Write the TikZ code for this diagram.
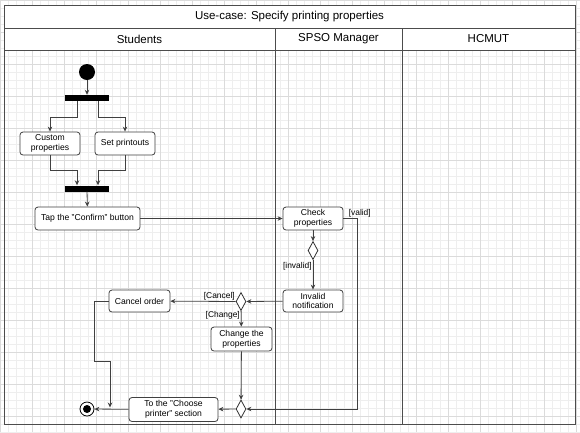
\documentclass[tikz,border=0pt]{standalone}
\usepackage{fontspec}
\setmainfont{Liberation Sans}
\usetikzlibrary{shapes.geometric,arrows.meta}
\begin{document}
\begin{tikzpicture}[x=1pt,y=-1pt,
  line/.style={draw=black!75,line width=0.8pt},
  arr/.style={line, -{Stealth[length=5pt,width=4.5pt]}},
  act/.style={draw=black!75,line width=0.8pt,rounded corners=3pt,fill=white,align=center,
    font=\fontsize{8.6}{9.6}\selectfont,inner sep=0pt},
  bar/.style={fill=black,minimum width=44pt,minimum height=6pt,inner sep=0pt},
  dec/.style={diamond,draw=black!80,line width=0.8pt,fill=white,minimum width=10pt,minimum height=18pt,inner sep=0pt},
  lbl/.style={font=\fontsize{8.4}{9}\selectfont,inner sep=1pt},
  hdr/.style={font=\fontsize{11.5}{12}\selectfont},
  gminor/.style={gray!13,line width=0.5pt},
  gmajor/.style={gray!28,line width=0.6pt}]
\useasboundingbox (0,0) rectangle (580,432);
\fill[white] (0,0) rectangle (580,432);
% grid
\foreach \i in {0,8,...,576} {\draw[gminor] (\i,0) -- (\i,432);}
\foreach \j in {0,8,...,432} {\draw[gminor] (0,\j) -- (580,\j);}
\foreach \i in {0,32,...,576} {\draw[gmajor] (\i,0) -- (\i,432);}
\foreach \j in {0,32,...,432} {\draw[gmajor] (0,\j) -- (580,\j);}
% swimlanes
\draw[black!70,line width=1pt,fill=white] (4,5) rectangle (575,28);
\draw[black!70,line width=1pt,fill=white] (4,28) rectangle (575,50);
\draw[black!70,line width=1pt] (4,28) rectangle (575,424);
\draw[black!70,line width=1pt] (275,28) -- (275,424);
\draw[black!70,line width=1pt] (402,28) -- (402,424);
\node[hdr] (title) at (289.5,17) {Use-case: Specify printing properties};
\node[hdr] (lane1) at (139.5,39) {Students};
\node[hdr] (lane2) at (338.5,39) {SPSO Manager};
\node[hdr] (lane3) at (488.5,39) {HCMUT};
% nodes
\node[circle,fill=black,minimum size=16pt,inner sep=0pt] (start) at (87,72) {};
\node[bar] (bar1) at (87,98) {};
\node[act,minimum width=60pt,minimum height=23pt] (custom) at (50,143.5) {Custom\\properties};
\node[act,minimum width=60pt,minimum height=23pt] (setp) at (125,143.5) {Set printouts};
\node[bar] (bar2) at (87,188.5) {};
\node[act,minimum width=105pt,minimum height=23pt] (tap) at (87.5,218.5) {Tap the "Confirm" button};
\node[act,minimum width=60pt,minimum height=23pt] (check) at (313,218.5) {Check\\properties};
\node[dec] (d1) at (313,250.5) {};
\node[act,minimum width=60pt,minimum height=22pt] (invalid) at (313,301) {Invalid\\notification};
\node[dec] (d3) at (241,301.5) {};
\node[act,minimum width=61pt,minimum height=22pt] (cancel) at (139.5,301) {Cancel order};
\node[act,minimum width=61pt,minimum height=24pt] (change) at (241.5,339) {Change the\\properties};
\node[dec] (d2) at (241,409) {};
\node[act,minimum width=89pt,minimum height=24pt] (to) at (173.5,409.5) {To the "Choose\\printer" section};
\node[circle,draw=black,line width=0.8pt,minimum size=14pt,inner sep=0pt] (end) at (87,409) {};
\node[circle,fill=black,minimum size=8pt,inner sep=0pt] (endin) at (87,409) {};
\coordinate (cl1) at (94,361);
\coordinate (cl2) at (110,361);
\coordinate (cl3) at (110,407.5);
% connectors
\draw[arr] (start) -- (bar1);
\draw[arr] ([xshift=-10pt]bar1.south) -- ++(0,16) -| (custom.north);
\draw[arr] ([xshift=11pt]bar1.south) -- ++(0,16) -| (setp.north);
\draw[arr] (custom.south) -- ++(0,15) -| ([xshift=-10pt]bar2.north);
\draw[arr] (setp.south) -- ++(0,15) -| ([xshift=11pt]bar2.north);
\draw[arr] (bar2) -- (tap);
\draw[arr] (tap) -- (check);
\draw[arr] (check) -- (d1);
\draw[arr] (d1) -- node[lbl,left,pos=0.2] {[invalid]} (invalid);
\draw[arr] (check.east) -- ++(14,0) node[lbl,pos=0.5,above right,xshift=-3pt] {[valid]} |- (d2.east);
\draw[arr] (invalid) -- (d3);
\draw[arr] (d3) -- node[lbl,above,pos=0.25] {[Cancel]} (cancel);
\draw[arr] (d3) -- node[lbl,left,pos=0.3] {[Change]} (change);
\draw[arr] (change) -- (d2);
\draw[arr] (d2) -- (to);
\draw[arr] (to) -- (end);
\draw[arr] (cancel.west) -| (cl1) -- (cl2) -- (cl3);
\end{tikzpicture}
\end{document}
